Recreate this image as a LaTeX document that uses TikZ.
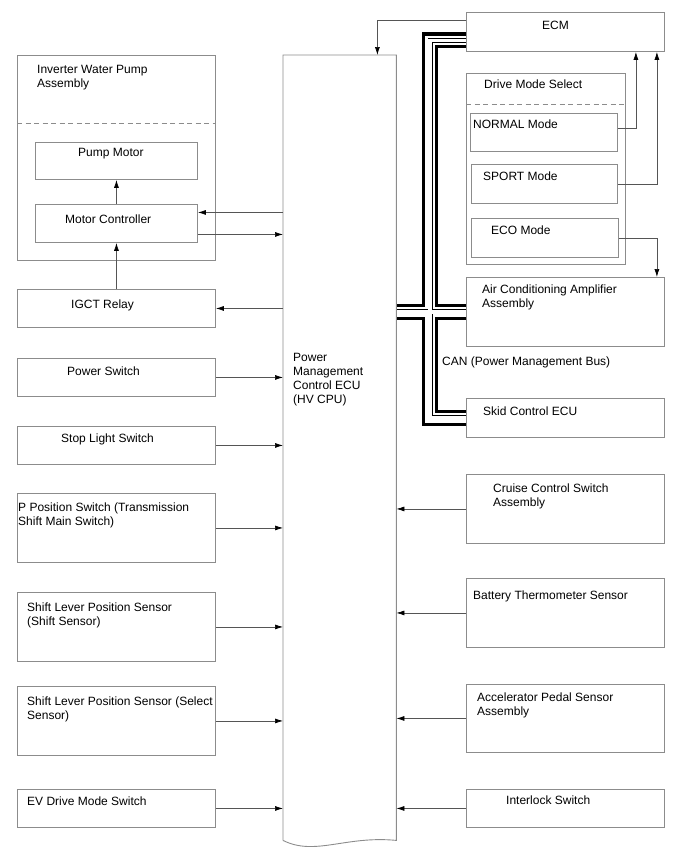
\documentclass[tikz,border=0pt]{standalone}
\usepackage{fontspec}
\setmainfont{Liberation Sans}
\usetikzlibrary{arrows.meta, calc, backgrounds}
\definecolor{boxgray}{RGB}{140,140,140}
\definecolor{linegray}{RGB}{85,85,85}

\begin{document}
\begin{tikzpicture}[
    x=1pt, y=-1pt,
    box/.style={rectangle, draw=boxgray, line width=0.9pt, inner sep=0pt, anchor=north west},
    txt/.style={font=\fontsize{12}{14}\selectfont, inner sep=0pt, anchor=north west, align=left},
    arrow/.style={-{Latex[length=8pt, width=5pt, color=black]}, draw=linegray, line width=0.7pt},
    divider/.style={draw=boxgray, line width=0.9pt, dash pattern=on 5pt off 3.5pt}
]
\useasboundingbox (0,0) rectangle (688,852);

% --- Power Management Control ECU ---
\node[rectangle, inner sep=0pt, anchor=north west, minimum width=113, minimum height=785] (pm) at (283,55) {};
\draw[draw=boxgray, line width=0.9pt] (pm.south west) -- (pm.north west) -- (pm.north east) -- (pm.south east)
    .. controls ++(-51,-5) and ++(32,16) .. (pm.south west);
\node[txt] (pmtext) at ($(pm.north west)+(10,298)$) {Power\\Management\\Control ECU\\(HV CPU)};

% --- Left column ---
\node[box, minimum width=198, minimum height=205] (iwp) at (17,55) {};
\draw[divider] ($(iwp.north west)+(0,68)$) -- ($(iwp.north east)+(0,68)$);
\node[txt] (iwptext) at ($(iwp.north west)+(20,10)$) {Inverter Water Pump\\Assembly};

\node[box, minimum width=162, minimum height=37] (pump) at (35,142) {};
\node[txt] (pumptext) at ($(pump.north west)+(43,6)$) {Pump Motor};

\node[box, minimum width=162, minimum height=38] (mc) at (35,204) {};
\node[txt] (mctext) at ($(mc.north west)+(30,11)$) {Motor Controller};

\node[box, minimum width=198, minimum height=38] (igct) at (17,289) {};
\node[txt] (igcttext) at ($(igct.north west)+(54,11)$) {IGCT Relay};

\node[box, minimum width=198, minimum height=38] (pwr) at (17,358) {};
\node[txt] (pwrtext) at ($(pwr.north west)+(50,9)$) {Power Switch};

\node[box, minimum width=198, minimum height=38] (stop) at (17,426) {};
\node[txt] (stoptext) at ($(stop.north west)+(44,8)$) {Stop Light Switch};

\node[box, minimum width=198, minimum height=69] (ppos) at (17,493) {};
\node[txt] (ppostext) at ($(ppos.north west)+(1,10)$) {P Position Switch (Transmission\\Shift Main Switch)};

\node[box, minimum width=198, minimum height=69] (shift) at (17,592) {};
\node[txt] (shifttext) at ($(shift.north west)+(10,11)$) {Shift Lever Position Sensor\\(Shift Sensor)};

\node[box, minimum width=198, minimum height=69] (select) at (17,686) {};
\node[txt] (selecttext) at ($(select.north west)+(10,11)$) {Shift Lever Position Sensor (Select\\Sensor)};

\node[box, minimum width=198, minimum height=38] (ev) at (17,789) {};
\node[txt] (evtext) at ($(ev.north west)+(10,8)$) {EV Drive Mode Switch};

% --- Right column ---
\node[box, minimum width=198, minimum height=39] (ecm) at (466,12) {};
\node[txt] (ecmtext) at ($(ecm.north west)+(76,9)$) {ECM};

\node[box, minimum width=159, minimum height=191] (dms) at (466,73) {};
\draw[divider] ($(dms.north west)+(0,31)$) -- ($(dms.north east)+(0,31)$);
\node[txt] (dmstext) at ($(dms.north west)+(18,7)$) {Drive Mode Select};

\node[box, minimum width=147, minimum height=38] (normal) at (470,113) {};
\node[txt] (normaltext) at ($(normal.north west)+(3,7)$) {NORMAL Mode};

\node[box, minimum width=146, minimum height=39] (sport) at (471,164) {};
\node[txt] (sporttext) at ($(sport.north west)+(12,8)$) {SPORT Mode};

\node[box, minimum width=147, minimum height=39] (eco) at (471,218) {};
\node[txt] (ecotext) at ($(eco.north west)+(20,8)$) {ECO Mode};

\node[box, minimum width=198, minimum height=69] (ac) at (466,277) {};
\node[txt] (actext) at ($(ac.north west)+(16,8)$) {Air Conditioning Amplifier\\Assembly};

\node[txt] (canlabel) at (442,357) {CAN (Power Management Bus)};

\node[box, minimum width=198, minimum height=39] (skid) at (466,398) {};
\node[txt] (skidtext) at ($(skid.north west)+(17,9)$) {Skid Control ECU};

\node[box, minimum width=198, minimum height=69] (cruise) at (466,474) {};
\node[txt] (cruisetext) at ($(cruise.north west)+(27,10)$) {Cruise Control Switch\\Assembly};

\node[box, minimum width=198, minimum height=69] (batt) at (466,578) {};
\node[txt] (batttext) at ($(batt.north west)+(7,13)$) {Battery Thermometer Sensor};

\node[box, minimum width=198, minimum height=68] (accel) at (466,684) {};
\node[txt] (acceltext) at ($(accel.north west)+(11,9)$) {Accelerator Pedal Sensor\\Assembly};

\node[box, minimum width=198, minimum height=38] (inter) at (466,789) {};
\node[txt] (intertext) at ($(inter.north west)+(40,7)$) {Interlock Switch};

% --- CAN bus (kept under the boxes) ---
\begin{scope}[on background layer]
\foreach \w/\c in {16/black, 9.5/white, 5/black, 3.2/white}{
  \draw[line width=\w pt, draw=\c, line join=miter]
      ($(ecm.south west)+(0,-11.5)$) -- ++(-36,0) |- (skid.west);
  \draw[line width=\w pt, draw=\c] (pm.east |- ac.west) -- (ac.west);
}
\end{scope}

% --- Inverter water pump links ---
\draw[arrow] (mc.north) -- (pump.south);
\draw[arrow] (igct.north) -- (mc.south);
\coordinate (mcin) at ($(mc.east)+(0,-11)$);
\coordinate (mcout) at ($(mc.east)+(0,11)$);
\draw[arrow] (pm.west |- mcin) -- (mcin);
\draw[arrow] (mcout) -- (mcout -| pm.west);
\draw[arrow] (pm.west |- igct.east) -- (igct.east);

% --- Left inputs ---
\foreach \src in {pwr, stop, ppos, shift, select, ev}
  \draw[arrow] (\src.east) -- (\src.east -| pm.west);

% --- Right inputs ---
\foreach \src in {cruise, batt, accel, inter}
  \draw[arrow] (\src.west) -- (\src.west -| pm.east);

% --- ECM and drive mode links ---
\draw[arrow] ($(ecm.north west)+(0,8)$) -| ($(pm.north east)+(-19,0)$);
\draw[arrow] ($(normal.east)+(0,-4)$) -| ($(ecm.south east)+(-29,0)$);
\draw[arrow] (sport.east) -| ($(ecm.south east)+(-8,0)$);
\draw[arrow] (eco.east) -| ($(ac.north east)+(-8,0)$);

\end{tikzpicture}
\end{document}
